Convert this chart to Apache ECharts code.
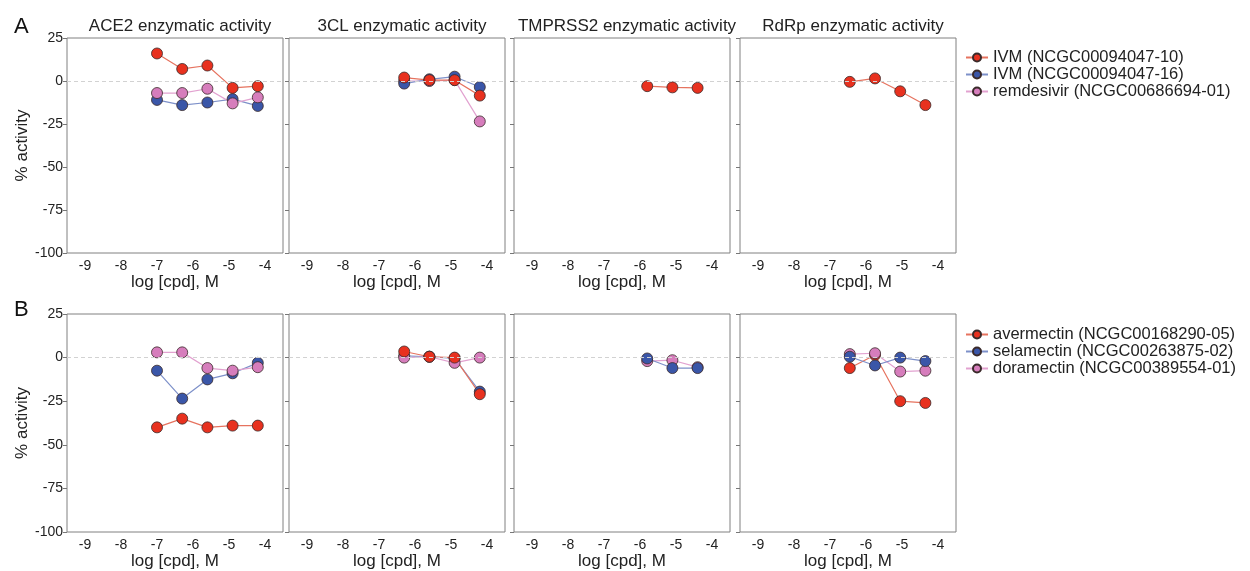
<!DOCTYPE html>
<html>
<head>
<meta charset="utf-8">
<script src="https://cdn.jsdelivr.net/npm/echarts@6/dist/echarts.min.js"></script>
<style>
  html, body { margin: 0; padding: 0; background: #fff; }
  #chart { width: 1250px; height: 571px; }
</style>
</head>
<body>
<div id="chart"></div>
<script>
// panel titles and x tick labels
const panelTitles = ['ACE2 enzymatic activity', '3CL enzymatic activity', 'TMPRSS2 enzymatic activity', 'RdRp enzymatic activity'];
const xTicks = [-9, -8, -7, -6, -5, -4];

// log concentrations used in each assay
const dosesACE2 = [-7, -6.3, -5.6, -4.9, -4.2];
const doses3CL = [-6.3, -5.6, -4.9, -4.2];
const dosesTMPRSS2 = [-5.8, -5.1, -4.4];
const dosesRdRp = [-6.45, -5.75, -5.05, -4.35];

// row A compounds
const namesA = ['IVM (NCGC00094047-10)', 'IVM (NCGC00094047-16)', 'remdesivir (NCGC00686694-01)'];
const ivm10_ACE2 = [16, 7, 9, -4, -3];
const ivm10_3CL = [2, 0.5, 0.5, -8.5];
const ivm10_TMPRSS2 = [-3, -3.7, -4];
const ivm10_RdRp = [-0.5, 1.5, -6, -14];
const ivm16_ACE2 = [-11, -14, -12.5, -10.5, -14.5];
const ivm16_3CL = [-1.5, 1, 2.5, -3.5];
const remd_ACE2 = [-7, -7, -4.5, -13, -9.5];
const remd_3CL = [0, 0, 0.5, -23.5];

// row B compounds
const namesB = ['avermectin (NCGC00168290-05)', 'selamectin (NCGC00263875-02)', 'doramectin (NCGC00389554-01)'];
const aver_ACE2 = [-40, -35, -40, -39, -39];
const aver_3CL = [3.5, 0.5, 0, -21];
const aver_RdRp = [-6, 1.5, -25, -26];
const sela_ACE2 = [-7.5, -23.5, -12.5, -9, -3];
const sela_3CL = [1, 0.5, -0.5, -19.5];
const sela_TMPRSS2 = [-0.5, -6, -6];
const sela_RdRp = [0.5, -4.5, 0, -2];
const dora_ACE2 = [3, 3, -6, -7.5, -5.5];
const dora_3CL = [0, 0.5, -3, 0];
const dora_TMPRSS2 = [-2, -1.5, -5.5];
const dora_RdRp = [2, 2.5, -8, -7.5];

const fills = ['#e8311f', '#3a56a8', '#d67dbc'];
const lines = ['#e6735f', '#7d90c9', '#e2a2d0'];
const font = 'Liberation Sans, Arial, sans-serif';

const chart = echarts.init(document.getElementById('chart'));

const colLeft = [67, 289, 514, 740];
const rowTop = [38, 314];
const rowH = [215, 219];
const panelW = 216;

const grids = [], xAxes = [], yAxes = [], series = [];
for (let r = 0; r < 2; r++) {
  for (let c = 0; c < 4; c++) {
    const idx = r * 4 + c;
    grids.push({ left: colLeft[c], top: rowTop[r], width: panelW, height: rowH[r],
      show: true, borderColor: '#808080', borderWidth: 1, containLabel: false });
    xAxes.push({
      type: 'value', gridIndex: idx, min: -9.5, max: -3.5,
      name: 'log [cpd], M', nameLocation: 'middle', nameGap: 21,
      nameTextStyle: { fontFamily: font, fontSize: 17, color: '#222' },
      axisLine: { show: false }, axisTick: { show: false }, splitLine: { show: false },
      axisLabel: { customValues: xTicks, fontFamily: font, fontSize: 14, color: '#222', margin: 6 }
    });
    yAxes.push({
      type: 'value', gridIndex: idx, min: -100, max: 25, interval: 25,
      name: c === 0 ? '% activity' : '', nameLocation: 'middle', nameGap: 31,
      nameTextStyle: { fontFamily: font, fontSize: 17, color: '#222' },
      axisLine: { show: false }, splitLine: { show: false },
      axisTick: { show: true, inside: false, length: 4, lineStyle: { color: '#777' } },
      axisLabel: { show: c === 0, fontFamily: font, fontSize: 14, color: '#222', margin: 4 }
    });
    // dashed zero reference line
    series.push({
      type: 'line', xAxisIndex: idx, yAxisIndex: idx, data: [], silent: true,
      markLine: { symbol: 'none', silent: true, label: { show: false },
        lineStyle: { type: [4, 3], color: '#d2d2d2', width: 1 }, data: [{ yAxis: 0 }] }
    });
  }
}

function pair(xs, ys) { return xs.map((x, i) => [x, ys[i]]); }

function addSeries(name, k, panel, xs, ys) {
  series.push({
    name: name, type: 'line', xAxisIndex: panel, yAxisIndex: panel,
    data: pair(xs, ys), symbol: 'circle', symbolSize: 11,
    itemStyle: { color: fills[k], borderColor: '#3a2a2a', borderWidth: 0.8 },
    lineStyle: { color: lines[k], width: 1.2 },
    emphasis: { disabled: true }
  });
}

// row A
addSeries(namesA[1], 1, 0, dosesACE2, ivm16_ACE2);
addSeries(namesA[2], 2, 0, dosesACE2, remd_ACE2);
addSeries(namesA[0], 0, 0, dosesACE2, ivm10_ACE2);
addSeries(namesA[2], 2, 1, doses3CL, remd_3CL);
addSeries(namesA[1], 1, 1, doses3CL, ivm16_3CL);
addSeries(namesA[0], 0, 1, doses3CL, ivm10_3CL);
addSeries(namesA[0], 0, 2, dosesTMPRSS2, ivm10_TMPRSS2);
addSeries(namesA[0], 0, 3, dosesRdRp, ivm10_RdRp);

// row B
addSeries(namesB[0], 0, 4, dosesACE2, aver_ACE2);
addSeries(namesB[1], 1, 4, dosesACE2, sela_ACE2);
addSeries(namesB[2], 2, 4, dosesACE2, dora_ACE2);
addSeries(namesB[1], 1, 5, doses3CL, sela_3CL);
addSeries(namesB[2], 2, 5, doses3CL, dora_3CL);
addSeries(namesB[0], 0, 5, doses3CL, aver_3CL);
addSeries(namesB[2], 2, 6, dosesTMPRSS2, dora_TMPRSS2);
addSeries(namesB[1], 1, 6, dosesTMPRSS2, sela_TMPRSS2);
addSeries(namesB[0], 0, 7, dosesRdRp, aver_RdRp);
addSeries(namesB[2], 2, 7, dosesRdRp, dora_RdRp);
addSeries(namesB[1], 1, 7, dosesRdRp, sela_RdRp);

const titles = panelTitles.map((t, c) => ({
  text: t, left: colLeft[c] + panelW / 2, top: 13, textAlign: 'center',
  textStyle: { fontFamily: font, fontSize: 17, fontWeight: 'normal', color: '#222' }
}));
titles.push({ text: 'A', left: 9, top: 11, textStyle: { fontFamily: font, fontSize: 22, fontWeight: 'normal', color: '#111' } });
titles.push({ text: 'B', left: 9, top: 294, textStyle: { fontFamily: font, fontSize: 22, fontWeight: 'normal', color: '#111' } });

const legendBase = {
  orient: 'vertical', left: 960, itemWidth: 22, itemHeight: 10, itemGap: 0,
  textStyle: { fontFamily: font, fontSize: 16.5, color: '#222' }, selectedMode: false
};

chart.setOption({
  animation: false,
  title: titles,
  legend: [
    Object.assign({}, legendBase, { top: 44, data: namesA }),
    Object.assign({}, legendBase, { top: 321, data: namesB })
  ],
  grid: grids,
  xAxis: xAxes,
  yAxis: yAxes,
  series: series
});
</script>
</body>
</html>
